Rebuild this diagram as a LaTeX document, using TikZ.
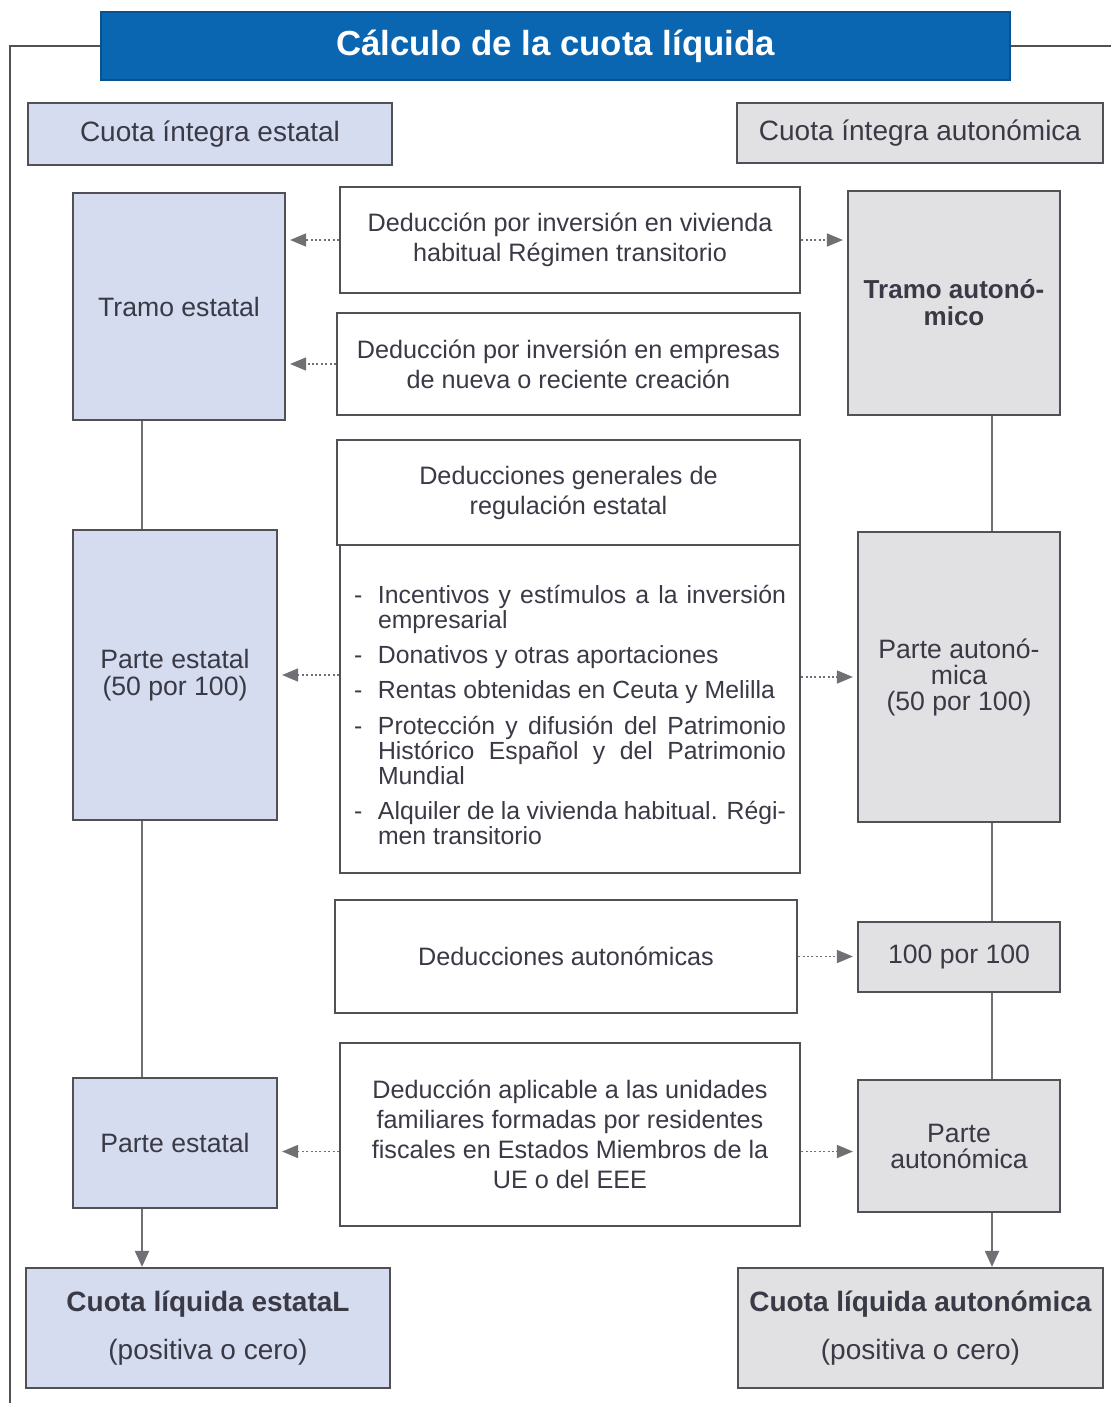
\documentclass[tikz,border=0pt]{standalone}
\usepackage{fontspec}
\setmainfont{Liberation Sans}
\usetikzlibrary{arrows.meta}
\definecolor{azultitulo}{HTML}{0B66B2}
\definecolor{azulclaro}{HTML}{D5DCEF}
\definecolor{grisclaro}{HTML}{E1E1E3}
\definecolor{bordegris}{HTML}{505056}
\definecolor{lineagris}{HTML}{707074}
\definecolor{textogris}{HTML}{3A3A46}
\newcommand\guion{\par\hangindent=12pt\hangafter=1\noindent\makebox[12pt][l]{-}}

\begin{document}
\begin{tikzpicture}[x=0.5pt,y=-0.5pt]
                \tikzstyle{caja}=[draw=bordegris,line width=1.1pt,inner sep=2pt,align=center,text=textogris,font=\fontsize{12.6}{15}\selectfont]
                \tikzstyle{titulo}=[caja,fill=azultitulo,draw=azultitulo!80!black,text=white,font=\bfseries\fontsize{17.4}{20}\selectfont]
                \tikzstyle{estatal}=[caja,fill=azulclaro,font=\fontsize{13.3}{13.8}\selectfont]
                \tikzstyle{autonom}=[caja,fill=grisclaro,font=\fontsize{13.3}{13}\selectfont]
                \tikzstyle{cabecera}=[font=\fontsize{14}{16}\selectfont]
                \tikzstyle{deduc}=[caja,fill=white]
                \tikzstyle{enlace}=[draw=lineagris,line width=1pt]
                \tikzstyle{flecha}=[enlace,-{Triangle[length=8pt,width=7pt]}]
                \tikzstyle{punteada}=[enlace,line width=0.8pt,dash pattern=on 1pt off 1.2pt,shorten >=2pt,-{Triangle[length=8pt,width=6.5pt,sep=0pt]}]
                \newcommand\bloque[7]{\node[#1,minimum width=#4*0.5pt,minimum height=#5*0.5pt] (#6) at (#2,#3) {#7};}
                \useasboundingbox (0,0) rectangle (1111,1403);
                % cabecera y marco
                \bloque{titulo}{555.5}{46}{909}{68}{tit}{Cálculo de la cuota líquida};
                \coordinate (marcoI) at (10,1403);
                \coordinate (marcoD) at (1111,46);
                \draw[enlace,draw=bordegris] (tit.west) -| (marcoI);
                \draw[enlace,draw=bordegris] (tit.east) -- (marcoD);
                % columna estatal
                \bloque{estatal,cabecera}{210}{134}{364}{62}{cie}{Cuota íntegra estatal};
                \bloque{estatal}{179}{306.5}{212}{227}{te}{Tramo estatal};
                \bloque{estatal}{175}{675}{204}{290}{pe50}{Parte estatal\\(50 por 100)};
                \bloque{estatal}{175}{1143}{204}{130}{pe}{Parte estatal};
                \bloque{estatal,cabecera}{208}{1328}{364}{120}{cle}{\textbf{Cuota líquida estataL}\\[8pt](positiva o cero)};
                % columna autonomica
                \bloque{autonom,cabecera}{920}{133}{366}{60}{cia}{Cuota íntegra autonómica};
                \bloque{autonom,font=\bfseries\fontsize{13}{13.5}\selectfont}{954}{303}{212}{224}{ta}{Tramo autonó-\\mico};
                \bloque{autonom}{959}{677}{202}{290}{pa50}{Parte autonó-\\mica\\(50 por 100)};
                \bloque{autonom}{959}{957}{202}{70}{cien}{100 por 100};
                \bloque{autonom}{959}{1146}{202}{132}{pa}{Parte\\autonómica};
                \bloque{autonom,cabecera}{920.5}{1328}{365}{120}{cla}{\textbf{Cuota líquida autonómica}\\[8pt](positiva o cero)};
                % deducciones
                \bloque{deduc}{570}{240}{460}{106}{dviv}{Deducción por inversión en vivienda\\habitual Régimen transitorio};
                \bloque{deduc}{568.5}{364}{463}{102}{demp}{Deducción por inversión en empresas\\de nueva o reciente creación};
                \bloque{deduc}{568.5}{492.5}{463}{105}{dgen}{Deducciones generales de\\regulación estatal};
                \bloque{deduc}{570}{709}{460}{328}{dlist}{\begin{minipage}{216pt}
                    \fontsize{12.4}{12.6}\selectfont\parskip=5pt\parindent=0pt
                    \leftskip=0pt\rightskip=0pt\parfillskip=0pt plus 1fil\tolerance=9999
                    \vspace*{6pt}
                    \guion Incentivos y estímulos a la inversión\linebreak empresarial
                    \guion Donativos y otras aportaciones
                    \guion Rentas obtenidas en Ceuta y Melilla
                    \guion Protección y difusión del Patrimonio\linebreak Histórico Español y del Patrimonio\linebreak Mundial
                    \guion Alquiler de la vivienda habitual. Régi-\linebreak men transitorio
                  \end{minipage}};
                \bloque{deduc}{566}{956.5}{462}{113}{daut}{Deducciones autonómicas};
                \bloque{deduc}{570}{1134.5}{460}{183}{dapl}{Deducción aplicable a las unidades\\familiares formadas por residentes\\fiscales en Estados Miembros de la\\UE o del EEE};
                % lineas verticales
                \coordinate (ejeI) at (142,0);
                \coordinate (ejeD) at (992,0);
                \draw[enlace] (te.south -| ejeI) -- (pe50.north -| ejeI) (pe50.south -| ejeI) -- (pe.north -| ejeI);
                \draw[flecha] (pe.south -| ejeI) -- (cle.north -| ejeI);
                \draw[enlace] (ta.south -| ejeD) -- (pa50.north -| ejeD) (pa50.south -| ejeD) -- (cien.north -| ejeD) (cien.south -| ejeD) -- (pa.north -| ejeD);
                \draw[flecha] (pa.south -| ejeD) -- (cla.north -| ejeD);
                % flechas punteadas
                \coordinate (aplI) at ([yshift=-8.5pt]dapl.west);
                \coordinate (aplD) at ([yshift=-8.5pt]dapl.east);
                \draw[punteada] (dviv.west) -- (dviv.west -| te.east);
                \draw[punteada] (dviv.east) -- (dviv.east -| ta.west);
                \draw[punteada] (demp.west) -- (demp.west -| te.east);
                \draw[punteada] (dlist.west |- pe50.east) -- (pe50.east);
                \draw[punteada] (dlist.east |- pa50.west) -- (pa50.west);
                \draw[punteada] (daut.east) -- (daut.east -| cien.west);
                \draw[punteada] (aplI) -- (aplI -| pe.east);
                \draw[punteada] (aplD) -- (aplD -| pa.west);
            \end{tikzpicture}
\end{document}
